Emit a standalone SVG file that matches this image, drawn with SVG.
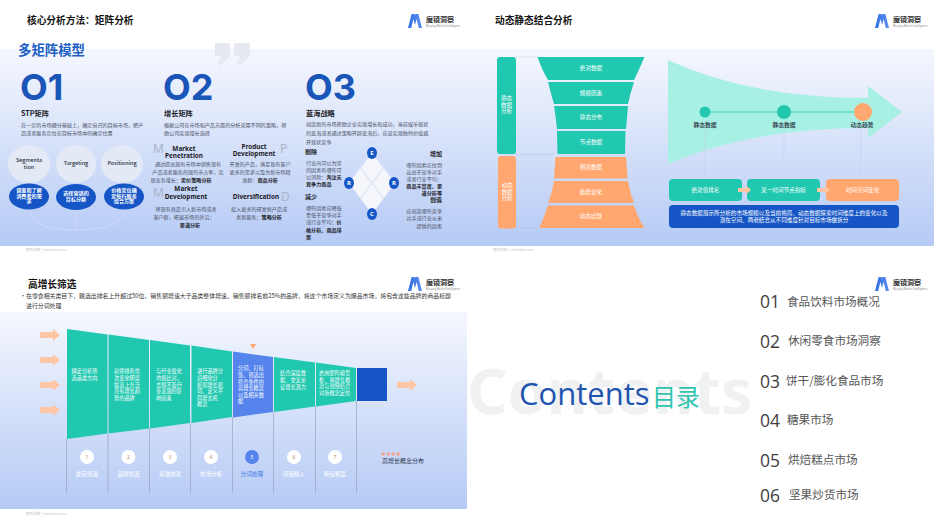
<svg xmlns="http://www.w3.org/2000/svg" width="934" height="526" viewBox="0 0 934 526">
<style>
text{font-family:"Noto Sans CJK SC","Noto Sans",sans-serif;fill:#333}
.t{font-size:9.7px;font-weight:700;fill:#111}
.big{font-family:Inter,"Noto Sans",sans-serif;font-size:36px;font-weight:700;fill:#1a55b8}
.h{font-size:7.2px;font-weight:700;fill:#1c1c28}
.d{font-size:5.1px;fill:#4a5064}
.db{font-size:5.1px;font-weight:700;fill:#1c1c28}
.en{font-family:"Noto Sans",sans-serif;font-size:6.4px;font-weight:700;fill:#1c1c28}
.g{font-family:"Noto Sans",sans-serif;font-size:12px;font-weight:400;fill:#aab5ca}
.m{text-anchor:middle}
.e{text-anchor:end}
.w{font-size:5.2px;fill:#fff}
.wb{font-size:5.1px;fill:#fff;font-weight:700;text-anchor:middle}
.wm{font-size:5.6px;fill:#fff;text-anchor:middle}
.k{font-size:5.4px;font-weight:500;fill:#26303f;text-anchor:middle}
.b{font-size:5.9px;fill:#333}
.f{font-size:3.6px;fill:#c8c8c8}
.lg{font-size:7px;font-weight:700;fill:#333}
.ls{font-family:"Noto Sans",sans-serif;font-size:2.6px;fill:#888}
.n{font-family:"Open Sans","Noto Sans",sans-serif;font-size:17.500px;fill:#404040}
.c{font-size:11.600px;fill:#555}
.r{font-family:"Noto Sans",sans-serif;font-size:6px;font-weight:700;fill:#fff;text-anchor:middle}
.num{font-family:"Noto Sans",sans-serif;font-size:5px;fill:#c08a60;text-anchor:middle}
.teal{fill:#20c8b0}.or{fill:#ffa76f}.blue{fill:#1555c6}
.vl{stroke:#8f9cb8;stroke-width:.6;fill:none}
.pl{stroke:#c2d4ee;stroke-width:.7;fill:none}
.oa{fill:#ffc6a6}
.ov{fill:#e4e9f6}
</style>
<defs>
<linearGradient id="bg" x1="0" y1="0" x2="0" y2="1"><stop offset="0" stop-color="#f5f7fe"/><stop offset="1" stop-color="#b5caf5"/></linearGradient>
<linearGradient id="mg" x1="0" y1="0" x2="1" y2="0"><stop offset="0" stop-color="#2f6fe0"/><stop offset="1" stop-color="#5f8ff0"/></linearGradient>
<path id="mk" d="M0 14 3.6 0H6.6L7 1.500 7.400 0H10.400L14 14H10.800L8.600 5 7 11 5.400 5 3.200 14Z" fill="url(#mg)"/>
<path id="oa" d="M0-3H13V-6L20 0 13 6V3H0Z"/>
<path id="oas" d="M0-2H8V-4.500L13 0 8 4.500V2H0Z"/>
</defs>
<rect width="934" height="526" fill="#fff"/>

<g id="slide-matrix">
<rect y="49" width="467" height="197" fill="url(#bg)"/>
<text class="t" x="27" y="24">核心分析方法：矩阵分析</text>
<g id="logo-1"><use href="#mk" x="408" y="14"/><text class="lg" x="426" y="22">魔镜洞察</text><text class="ls" x="426" y="27">Moojing Market Intelligence</text></g>
<path d="M215 43H230V56L221 66 217 63 222 56H215ZM234 43H250V56L240 66 236 63 241 56H234Z" fill="#e6e9ef"/>
<text x="18" y="55" style="font-size:13.400px;font-weight:700;fill:#1d5fc4">多矩阵模型</text>
<text class="f" x="26" y="251">魔镜洞察 | mktindex.com</text>

<g id="stp">
<text class="big" x="20" y="100">O1</text>
<text class="h" x="21" y="116">STP矩阵</text>
<text class="d" x="21" y="126.500">在一定的市场细分基础上，确定自己的目标市场，把产</text>
<text class="d" x="21" y="135">品或者服务定位在目标市场中的确定位置</text>
<path d="M30 212Q34 230 76 230Q120 230 124 212M76 210V230" stroke="#d5e0f6" stroke-width=".7" fill="none"/>
<g id="seg"><ellipse class="ov" cx="29" cy="164" rx="21" ry="19"/><text class="k" x="29" y="162">Segmenta</text><text class="k" x="29" y="168.500">tion</text><ellipse class="blue" cx="29" cy="196.500" rx="20" ry="13"/><text class="wb" x="29" y="192">调查和了解</text><text class="wb" x="29" y="197.500">消费者的需</text><text class="wb" x="29" y="203">求</text></g>
<g id="tar"><ellipse class="ov" cx="76" cy="164" rx="20" ry="19"/><text class="k" x="76" y="165">Targeting</text><ellipse class="blue" cx="76" cy="197" rx="20" ry="13"/><text class="wb" x="76" y="195">选择营销的</text><text class="wb" x="76" y="200.500">目标分群</text></g>
<g id="pos"><ellipse class="ov" cx="122" cy="164" rx="21" ry="19"/><text class="k" x="122" y="165">Positioning</text><ellipse class="blue" cx="124" cy="196.500" rx="20" ry="13"/><text class="wb" x="124" y="192">价格定位确</text><text class="wb" x="124" y="197.500">定每行服务</text><text class="wb" x="124" y="203">组合方案</text></g>
</g>

<g id="growth">
<text class="big" x="163" y="100">O2</text>
<text class="h" x="164" y="116">增长矩阵</text>
<text class="d" x="164" y="126.500">根据公司在市场和产品方面的分析采用不同的策略，帮</text>
<text class="d" x="164" y="135">助公司实现增长选择</text>
<g id="mp"><text class="g" x="153" y="153">M</text><text class="en m" x="184" y="150.500">Market</text><text class="en m" x="184" y="157.500">Penetration</text><text class="d m" x="188" y="166">通过提高现有市场中销售现有</text><text class="d m" x="188" y="174">产品或者服务的现的市占率，实</text><text class="d m" x="181" y="182">现业务增长：<tspan class="db">定价策略分析</tspan></text></g>
<g id="pd"><text class="g" x="280" y="153">P</text><text class="en m" x="254" y="148.500">Product</text><text class="en m" x="254" y="155.500">Development</text><text class="d m" x="260" y="166">开发的产品，满足现有客户</text><text class="d m" x="260" y="174">更多的需求以及为新市场精</text><text class="d m" x="260" y="182">准群：<tspan class="db">商品分析</tspan></text></g>
<g id="md"><text class="g" x="153" y="197">M</text><text class="en m" x="186" y="191">Market</text><text class="en m" x="186" y="199">Development</text><text class="d m" x="186" y="211">将现有商品引入新市场或者</text><text class="d m" x="184" y="219">客户群，拓展市场的外沿：</text><text class="db m" x="190" y="226.500">渠道分析</text></g>
<g id="dv"><text class="g" x="281" y="201">D</text><text class="en m" x="256" y="199">Diversification</text><text class="d m" x="259" y="211">投入更多的研发新产品或</text><text class="d m" x="259" y="218.500">者新服务：<tspan class="db">策略分析</tspan></text></g>
</g>

<g id="blue-ocean">
<text class="big" x="305" y="100">O3</text>
<text class="h" x="306" y="115.500">蓝海战略</text>
<text class="d" x="306" y="126">创造新的市场帮助企业实现增长和成功，当前娱乐现状</text>
<text class="d" x="306" y="135">的蓝海或者通过策略开辟蓝海后，应该实现独特价值避</text>
<text class="d" x="306" y="144">开现状竞争</text>
<g id="eliminate"><text class="db" style="font-size:6px" x="305" y="154">剔除</text><text class="d" x="306" y="165">行业内习以为常</text><text class="d" x="306" y="172">的因素有哪些可</text><text class="d" x="306" y="178.500">以消除：<tspan class="db">淘汰无</tspan></text><text class="db" x="306" y="186">竞争力商品</text></g>
<g id="reduce"><text class="db" style="font-size:6px" x="305" y="199">减少</text><text class="d" x="306" y="210">哪些因素应降低</text><text class="d" x="306" y="217">至低于竞争对手</text><text class="d" x="306" y="224">或行业平均：<tspan class="db">价</tspan></text><text class="db" x="306" y="232">格分析、商品排</text><text class="db" x="306" y="239">案</text></g>
<g id="raise"><text class="db e" style="font-size:6px" x="442" y="156">增加</text><text class="d e" x="442" y="167">哪些因素应拉到</text><text class="d e" x="442" y="174">远高于竞争对手</text><text class="d e" x="442" y="181">或者行业平均：</text><text class="db e" x="442" y="188">商品丰富度、渠</text><text class="db e" x="442" y="195">道分析等</text></g>
<g id="create"><text class="db e" style="font-size:6px" x="442" y="202">创造</text><text class="d e" x="442" y="213">应创造哪些竞争</text><text class="d e" x="442" y="220">对手或行业从未</text><text class="d e" x="442" y="227.500">提供的因素</text></g>
<g id="errc"><path d="M372 153 395 183 372 214 349 183Z" fill="#f5f6fb"/><path d="M360.500 168 383.500 198.500M383.500 168 360.500 198.500" stroke="#d8dfef" stroke-width="1"/>
<ellipse class="blue" cx="372" cy="153" rx="5" ry="6"/><text class="r" x="372" y="155">E</text><ellipse class="blue" cx="349" cy="183" rx="5" ry="6"/><text class="r" x="349" y="185">R</text><ellipse class="blue" cx="394" cy="183" rx="5" ry="6"/><text class="r" x="394" y="185">R</text><ellipse class="blue" cx="372" cy="214" rx="5" ry="6"/><text class="r" x="372" y="216">C</text></g>
</g>
</g>

<g id="slide-dynamic">
<rect x="467" y="49" width="467" height="197" fill="url(#bg)"/>
<text class="t" x="495" y="24">动态静态结合分析</text>
<g id="logo-2"><use href="#mk" x="875" y="14"/><text class="lg" x="893" y="22">魔镜洞察</text><text class="ls" x="893" y="27">Moojing Market Intelligence</text></g>
<text class="f" x="493" y="251">魔镜洞察 | mktindex.com</text>
<path d="M516 57H536M516 154.500H553M516 228H538" stroke="#9aa8c4" stroke-width=".5" stroke-dasharray="1 1" fill="none"/>
<g id="static-bar"><rect class="teal" x="497" y="57" width="19" height="97" rx="3"/><text class="wm" x="506.500" y="100">静态</text><text class="wm" x="506.500" y="106.500">数据</text><text class="wm" x="506.500" y="113">分析</text></g>
<g id="dynamic-bar"><rect class="or" x="498" y="156" width="18" height="72.500" rx="3"/><text class="wm" x="507" y="187">动态</text><text class="wm" x="507" y="193.500">数据</text><text class="wm" x="507" y="200">分析</text></g>
<g id="funnel">
<path class="teal" d="M537.500 57H644.500Q638 72 634 80H548Q542 70 537.500 57Z"/><text class="wm" x="591" y="70">绝对数据</text>
<path class="teal" d="M548 82H634Q630 94 628 104H554Q551 94 548 82Z"/><text class="wm" x="591" y="95">规模因素</text>
<path class="teal" d="M554 106H628Q627 118 626 129H557Q556 118 554 106Z"/><text class="wm" x="591" y="119">静态分布</text>
<path class="teal" d="M557 131H625.500L625 154H557.500Z"/><text class="wm" x="591" y="144">节点数据</text>
<path class="or" d="M555.500 157H626L627.500 178.500H554Z"/><text class="wm" x="591" y="169">相对数据</text>
<path class="or" d="M554 181H628Q630 193 634 203H548Q552 193 554 181Z"/><text class="wm" x="591" y="194">趋势变化</text>
<path class="or" d="M548 205.500H634Q638 218 644.500 228H539Q544 218 548 205.500Z"/><text class="wm" x="591" y="218">动态比较</text>
</g>
<path id="big-arrow" d="M668 60Q750 98 868 98V86L902 112 868 138V128Q750 128 668 164Z" fill="#a9f0e4"/>
<g id="connectors-dynamic">
<path d="M705 112H863" stroke="#20c8b0" stroke-width=".8"/>
<path class="pl" d="M705 130V178M784 133V178M861 130V178"/>
</g>
<g id="p1"><circle class="teal" cx="705" cy="112" r="5.500"/><text class="k" x="705" y="127" style="font-size:5.800px">静态数据</text></g>
<g id="p2"><circle class="teal" cx="784" cy="112" r="7"/><text class="k" x="784" y="127" style="font-size:5.800px">静态数据</text></g>
<g id="p3"><circle class="or" cx="863" cy="112" r="9"/><text class="k" x="862" y="127" style="font-size:5.800px">动态趋势</text></g>
<g id="b1"><rect class="teal" x="669" y="179" width="73" height="22" rx="4"/><text class="wm" x="705.500" y="192">绝对值排名</text></g>
<g id="b2"><rect class="teal" x="747" y="179" width="73" height="22" rx="4"/><text class="wm" x="783.500" y="192">某一时间节点指标</text></g>
<g id="b3"><rect class="or" x="826" y="179" width="73" height="22" rx="4"/><text class="wm" x="862.500" y="192">时间空间变化</text></g>
<use href="#oas" x="738" y="190" class="oa"/>
<use href="#oas" x="817" y="190" class="oa"/>
<g id="note"><rect class="blue" x="669" y="205" width="230" height="23" rx="4"/><text class="wm" x="784" y="215">静态数据展示所分析的市场规模以及当前格局、动态数据探索时间维度上的变化以及</text><text class="wm" x="784" y="222">潜在空间、两者结合从不同维度针对目标市场做拆分</text></g>
</g>

<g id="slide-filter">
<rect y="312" width="467" height="197" fill="url(#bg)"/>
<text class="t" x="28" y="287.500">高增长筛选</text>
<g id="logo-3"><use href="#mk" x="408" y="277"/><text class="lg" x="426" y="285">魔镜洞察</text><text class="ls" x="426" y="290">Moojing Market Intelligence</text></g>
<text class="b" x="20" y="298">•</text>
<text class="b" x="26" y="298">在零食相关类目下，跳选出排名上升超过50位、销售额增速大于品类整体增速、销售额排名前25%的品牌，将这个市场定义为爆品市场，将包含这些品牌的商品标题</text>
<text class="b" x="26" y="308">进行分词处理</text>
<text class="f" x="26" y="514.500">魔镜洞察 | mktindex.com</text>
<g id="connectors-filter"><path class="vl" d="M66.500 439V493M108 434V493M149.500 428V493M190.500 423V493M232.500 417V493M273.500 412V493M315.500 406V493M356.500 401V493"/></g>
<use href="#oa" x="40" y="335" class="oa"/><use href="#oa" x="40" y="360" class="oa"/><use href="#oa" x="40" y="385" class="oa"/><use href="#oa" x="40" y="410" class="oa"/>
<use href="#oa" x="397" y="385" class="oa"/>
<path d="M250 344H256L253 349Z" fill="#ffa76f"/>
<g id="s1"><path class="teal" d="M67 329 107.500 334.500V433.500L67 439Z"/><text class="w" x="71.500" y="373">确定分析筛</text><text class="w" x="71.500" y="380">选品类方向</text>
<circle cx="87" cy="457" r="7" fill="#fff"/><text class="num" x="87" y="459">1</text><text class="wm" x="87" y="476">类目筛选</text></g>
<g id="s2"><path class="teal" d="M108.500 334.500 149 340V428.500L108.500 433.500Z"/><text class="w" x="114" y="373">初筛排名位</text><text class="w" x="114" y="380">次变化明显</text><text class="w" x="114" y="386.500">提高上升泛</text><text class="w" x="114" y="393">具有增长趋</text><text class="w" x="114" y="400">势的品牌</text>
<circle cx="128.500" cy="457" r="7" fill="#fff"/><text class="num" x="128.500" y="459">2</text><text class="wm" x="128.500" y="476">品牌筛选</text></g>
<g id="s3"><path class="teal" d="M150 340 190 345.500V423L150 428.500Z"/><text class="w" x="156" y="373">与行业变化</text><text class="w" x="156" y="380">均值比对，</text><text class="w" x="156" y="386.500">去除不及行</text><text class="w" x="156" y="393">业表现的影</text><text class="w" x="156" y="400">响因素</text>
<circle cx="170" cy="457" r="7" fill="#fff"/><text class="num" x="170" y="459">3</text><text class="wm" x="170" y="476">基准校对</text></g>
<g id="s4"><path class="teal" d="M191.500 345.500 232 351.500V417L191.500 423Z"/><text class="w" x="197" y="373">进行品牌分</text><text class="w" x="197" y="380">后细化分</text><text class="w" x="197" y="386.500">析挖增长机</text><text class="w" x="197" y="393">词、定义不</text><text class="w" x="197" y="400">同增长机</text><text class="w" x="197" y="406">概念</text>
<circle cx="211" cy="457" r="7" fill="#fff"/><text class="num" x="211" y="459">4</text><text class="wm" x="211" y="476">市场分析</text></g>
<g id="s5"><path d="M233 351.500 273 357V412L233 417.500Z" fill="#5585ec"/><text class="w" x="238" y="370">分词、打标</text><text class="w" x="238" y="377">签、筛选出</text><text class="w" x="238" y="383.500">符合条件的</text><text class="w" x="238" y="390">高增长概念</text><text class="w" x="238" y="396.500">以及相关数</text><text class="w" x="238" y="403">据</text>
<circle cx="252" cy="457" r="7" fill="#5585ec"/><text class="num" x="252" y="459" style="fill:#fff">5</text><text class="wm" x="252" y="476" style="fill:#3f78e6">分词处理</text></g>
<g id="s6"><path class="teal" d="M274 357 315 362.500V406.500L274 412Z"/><text class="w" x="280" y="375">结合深度数</text><text class="w" x="280" y="382">据、交叉论</text><text class="w" x="280" y="389">证增长潜力</text>
<circle cx="294" cy="457" r="7" fill="#fff"/><text class="num" x="294" y="459">6</text><text class="wm" x="294" y="476">词频植入</text></g>
<g id="s7"><path class="teal" d="M316 362.500 356 368V401L316 406.500Z"/><text class="w" x="319" y="375">启用矩阵模型</text><text class="w" x="319" y="381.500">框、将增长概</text><text class="w" x="319" y="388">念与到预结合</text><text class="w" x="319" y="394.500">对新概念定位</text>
<circle cx="335" cy="457" r="7" fill="#fff"/><text class="num" x="335" y="459">7</text><text class="wm" x="335" y="476">特征模型</text></g>
<rect id="end" class="blue" x="357" y="368" width="30" height="33"/>
<g id="legend"><text x="381" y="454.500" style="font-size:5px;fill:#ff9a70">★★★★</text><text x="382" y="463" style="font-size:6px;fill:#26303f">高增长概念分布</text></g>
</g>

<g id="slide-contents">
<text x="467" y="414" style="font-family:'Noto Sans',sans-serif;font-size:63px;font-weight:700;fill:#f0f1f3">Contents</text>
<text x="519" y="405" style="font-family:'Open Sans','Noto Sans',sans-serif;font-size:31px;fill:#1f55ae">Contents</text>
<text x="652" y="406" style="font-size:24px;fill:#2fc4ae">目录</text>
<g id="logo-4"><use href="#mk" x="875" y="277"/><text class="lg" x="893" y="285">魔镜洞察</text><text class="ls" x="893" y="290">Moojing Market Intelligence</text></g>
<g id="c1"><text class="n" x="760" y="308">01</text><text class="c" x="787" y="306">食品饮料市场概况</text></g>
<g id="c2"><text class="n" x="760" y="348">02</text><text class="c" x="788" y="345">休闲零食市场洞察</text></g>
<g id="c3"><text class="n" x="760" y="388">03</text><text class="c" x="786" y="385">饼干/膨化食品市场</text></g>
<g id="c4"><text class="n" x="760" y="427">04</text><text class="c" x="787" y="424">糖果市场</text></g>
<g id="c5"><text class="n" x="760" y="467">05</text><text class="c" x="788" y="464">烘焙糕点市场</text></g>
<g id="c6"><text class="n" x="760" y="502">06</text><text class="c" x="789" y="499">坚果炒货市场</text></g>
</g>
</svg>
